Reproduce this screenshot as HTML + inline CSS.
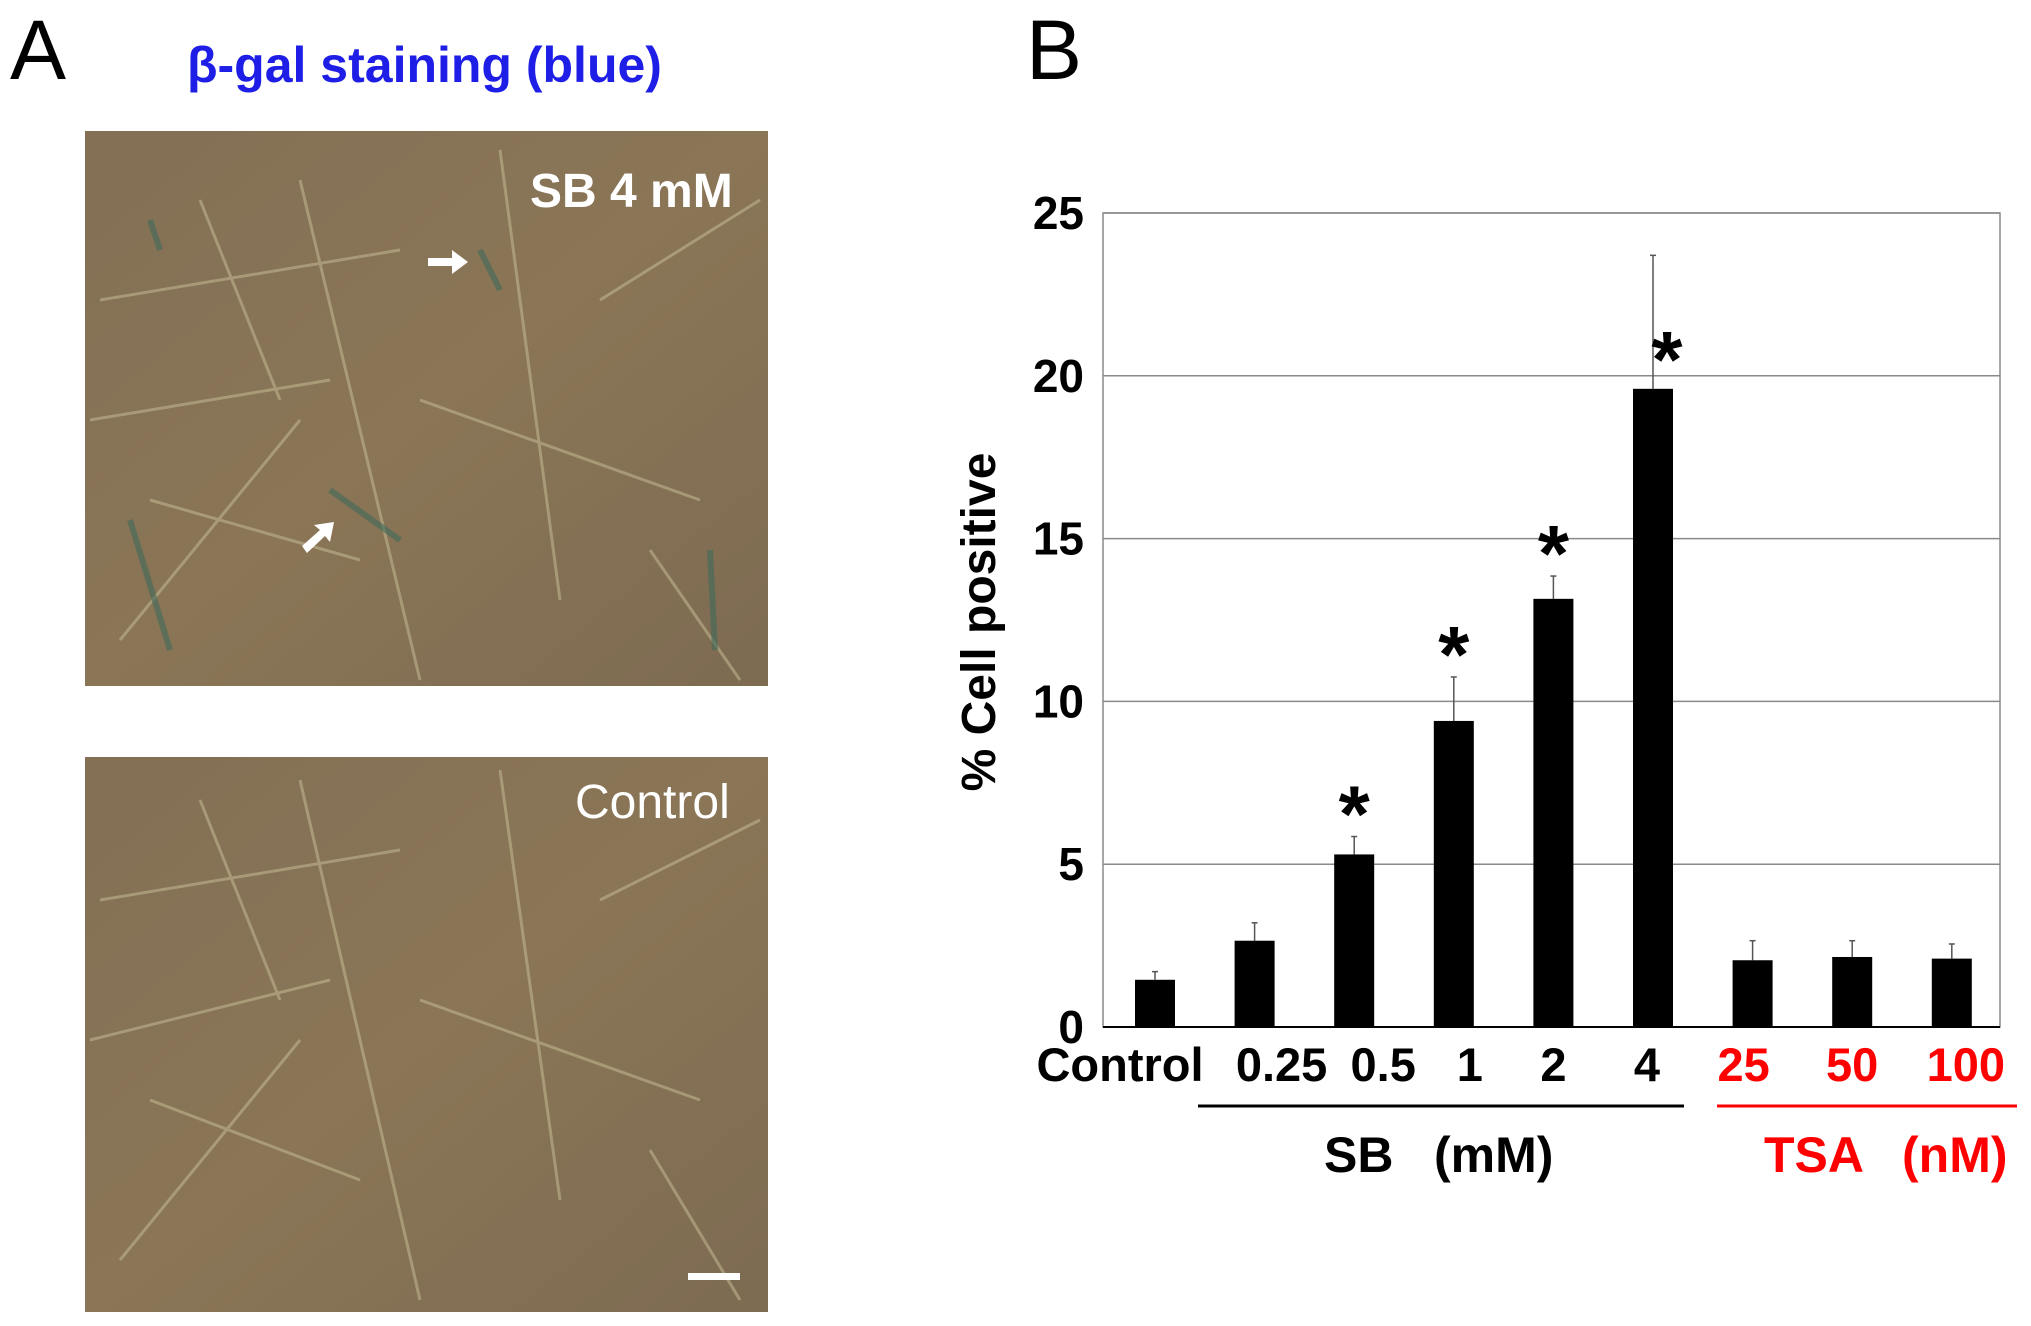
<!DOCTYPE html>
<html><head><meta charset="utf-8"><style>
html,body{margin:0;padding:0;background:#fff;}
body{width:2031px;height:1326px;position:relative;overflow:hidden;font-family:"Liberation Sans",sans-serif;}
.abs{position:absolute;}
</style></head><body>
<div class="abs" style="left:10px;top:8px;font-size:84px;line-height:84px;">A</div>
<div class="abs" style="left:1026px;top:8px;font-size:84px;line-height:84px;">B</div>
<div class="abs" style="left:187px;top:36px;font-size:50px;font-weight:bold;color:#1e1ee6;white-space:nowrap;">β-gal staining (blue)</div>

<svg class="abs" style="left:0;top:0" width="1000" height="1326">
  <defs>
    <linearGradient id="g1" x1="0" y1="0" x2="1" y2="1">
      <stop offset="0" stop-color="#837055"/><stop offset="0.5" stop-color="#8a7556"/><stop offset="1" stop-color="#7d6b52"/>
    </linearGradient>
  </defs>
  <g>
    <rect x="85" y="131" width="683" height="555" fill="url(#g1)"/>
    <g stroke="#c9c29a" stroke-width="3" fill="none" opacity="0.5">
      <path d="M100 300 L400 250 M150 500 L360 560 M300 180 L420 680 M500 150 L560 600 M600 300 L760 200 M120 640 L300 420 M420 400 L700 500 M650 550 L740 680 M200 200 L280 400 M90 420 L330 380"/>
    </g>
    <g stroke="#3f6a5a" stroke-width="6" fill="none" opacity="0.6">
      <path d="M130 520 L170 650 M330 490 L400 540 M480 250 L500 290 M710 550 L715 650 M150 220 L160 250"/>
    </g>
    <text x="530" y="207" fill="#fff" font-size="48" font-weight="bold" font-family="Liberation Sans, sans-serif">SB 4 mM</text>
    <path d="M428 258 L452 258 L452 250 L468 262 L452 274 L452 266 L428 266 Z" fill="#fff"/>
    <path d="M302 546 L320 530 L314 525 L334 522 L330 542 L325 536 L307 553 Z" fill="#fff"/>
  </g>
  <g>
    <rect x="85" y="757" width="683" height="555" fill="url(#g1)"/>
    <g stroke="#c9c29a" stroke-width="3" fill="none" opacity="0.5">
      <path d="M100 900 L400 850 M150 1100 L360 1180 M300 780 L420 1300 M500 770 L560 1200 M600 900 L760 820 M120 1260 L300 1040 M420 1000 L700 1100 M650 1150 L740 1300 M200 800 L280 1000 M90 1040 L330 980"/>
    </g>
    <text x="575" y="818" fill="#fff" font-size="48" font-family="Liberation Sans, sans-serif">Control</text>
    <rect x="688" y="1273" width="52" height="7" fill="#fff"/>
  </g>
</svg>

<svg class="abs" id="chart" style="left:0;top:0" width="2031" height="1326"></svg>
<script>
const categories=["Control","0.25","0.5","1","2","4","25","50","100"];
const values=[1.45,2.65,5.3,9.4,13.15,19.6,2.05,2.15,2.1];
const errors=[0.25,0.55,0.55,1.35,0.7,4.1,0.6,0.5,0.45];
const significant=[false,false,true,true,true,true,false,false,false];
const yTicks=[0,5,10,15,20,25];
const labelColors=["#000","#000","#000","#000","#000","#000","#f00","#f00","#f00"];
const labelOffsets=[-35,27,29,16,0,-6,-9,0,14];

const svg=document.getElementById('chart');
const NS='http://www.w3.org/2000/svg';
const X0=1103,X1=2000,Y0=1027,Y1=213,YMAX=25;
const y=v=>Y0-(v/YMAX)*(Y0-Y1);
const step=99.6, x=i=>1155+i*step, BW=40;
function mk(t,a){const e=document.createElementNS(NS,t);for(const k in a)e.setAttribute(k,a[k]);svg.appendChild(e);return e;}

yTicks.forEach(t=>{
  if(t>0){const g=mk('line',{x1:X0,x2:X1,y1:y(t),y2:y(t),stroke:'#8a8a8a','stroke-width':1.5});
  
  }
  const l=mk('text',{x:1084,y:y(t)+16,'text-anchor':'end','font-size':46,'font-weight':'bold','font-family':'Liberation Sans, sans-serif'});
  l.textContent=t;
  
  
});
const fr=mk('rect',{x:X0,y:Y1,width:X1-X0,height:Y0-Y1,fill:'none',stroke:'#8a8a8a','stroke-width':1.5});


const ax=mk('line',{x1:X0,x2:X1,y1:Y0,y2:Y0,stroke:'#000','stroke-width':2});



categories.forEach((c,i)=>{
  const cx=x(i);
  const eb=mk('line',{x1:cx,x2:cx,y1:y(values[i]+errors[i]),y2:y(values[i]),stroke:'#555','stroke-width':1.5});
  
  
  const cap=mk('line',{x1:cx-3,x2:cx+3,y1:y(values[i]+errors[i]),y2:y(values[i]+errors[i]),stroke:'#555','stroke-width':1.5});
  
  
  const b=mk('rect',{x:cx-BW/2,y:y(values[i]),width:BW,height:Y0-y(values[i]),fill:'#000'});
  
  
  if(significant[i]){
    const last=i===5;
    const sy=last? y(values[i])-52 : y(values[i]+errors[i])-45;
    const s=mk('text',{x:last?cx+14:cx,y:sy+50,'text-anchor':'middle','font-size':80,'font-weight':'bold','font-family':'Liberation Sans, sans-serif'});
    s.textContent='*';
    
    
  }
  const t=mk('text',{x:cx+labelOffsets[i],y:1081,'text-anchor':'middle','font-size':47,'font-weight':'bold',fill:labelColors[i],'font-family':'Liberation Sans, sans-serif'});
  t.textContent=c;
  
  
});
</script>
<svg class="abs" style="left:0;top:0" width="2031" height="1326">
  <text transform="translate(995,622) rotate(-90)" text-anchor="middle" font-size="48" font-weight="bold" font-family="Liberation Sans, sans-serif">% Cell positive</text>
  <line x1="1198" x2="1684" y1="1106" y2="1106" stroke="#000" stroke-width="3"/>
  <line x1="1717" x2="2017" y1="1106" y2="1106" stroke="#f00" stroke-width="3"/>
  <text x="1324" y="1172" font-size="50" font-weight="bold" font-family="Liberation Sans, sans-serif">SB</text>
  <text x="1434" y="1172" font-size="50" font-weight="bold" font-family="Liberation Sans, sans-serif">(mM)</text>
  <text x="1764" y="1172" font-size="50" font-weight="bold" fill="#f00" font-family="Liberation Sans, sans-serif">TSA</text>
  <text x="1902" y="1172" font-size="50" font-weight="bold" fill="#f00" font-family="Liberation Sans, sans-serif">(nM)</text>
</svg>
</body></html>
